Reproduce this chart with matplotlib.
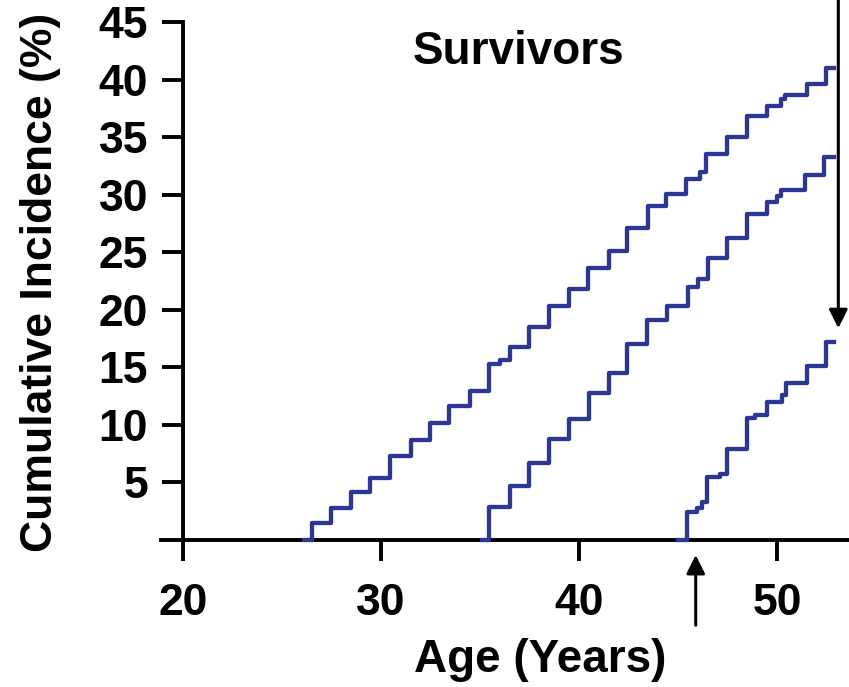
import matplotlib
matplotlib.use("Agg")
import matplotlib.pyplot as plt

# Step curves (age in years, cumulative incidence in %)
c1_age = [26.1, 26.5, 27.5, 28.5, 29.45, 30.45, 31.5, 32.5, 33.45, 34.5, 35.45, 36.0,
          36.5, 37.5, 38.5, 39.5, 40.47, 41.5, 42.45, 43.5, 44.4, 45.4, 46.1, 46.4,
          47.46, 48.5, 49.5, 50.2, 50.4, 51.5, 52.5, 52.9]
c1_pct = [0, 1.45, 2.8, 4.2, 5.4, 7.3, 8.7, 10.2, 11.6, 12.96, 15.3, 15.6,
          16.8, 18.5, 20.3, 21.8, 23.6, 25.1, 27.1, 29.0, 30.06, 31.4, 32.0, 33.5,
          35.0, 36.8, 37.7, 38.3, 38.7, 39.6, 41.0, 41.0]

c2_age = [35.1, 35.45, 36.5, 37.5, 38.5, 39.5, 40.5, 41.5, 42.45, 43.45, 44.45, 45.5,
          46.0, 46.5, 47.5, 48.5, 49.5, 50.0, 50.2, 51.4, 52.4, 52.9]
c2_pct = [0, 2.9, 4.7, 6.7, 8.75, 10.5, 12.75, 14.5, 17.0, 19.1, 20.3, 22.0,
          22.7, 24.5, 26.2, 28.3, 29.4, 29.9, 30.4, 31.7, 33.3, 33.3]

c3_age = [45.0, 45.47, 45.94, 46.2, 46.45, 47.12, 47.5, 48.5, 48.9, 49.5, 50.24, 50.44,
          51.5, 52.5, 52.9]
c3_pct = [0, 2.4, 2.75, 3.3, 5.5, 5.7, 7.9, 10.6, 10.9, 12.0, 12.6, 13.6,
          15.1, 17.2, 17.2]

x_ticks = [20, 30, 40, 50]
y_ticks = [5, 10, 15, 20, 25, 30, 35, 40, 45]

# arrows: (age, tail %, head %)
up_arrow = (45.9, -7.4, -1.3)
down_arrow = (53.1, 47.5, 18.4)

BLUE = "#2b3696"
FONT = "Liberation Sans"

plt.rcParams["font.family"] = FONT
plt.rcParams["font.weight"] = "bold"

fig = plt.figure(figsize=(8.49, 6.87), dpi=100)
ax = fig.add_axes([161 / 849, 147 / 687, 688 / 849, 518 / 687])

for age, pct in [(c1_age, c1_pct), (c2_age, c2_pct), (c3_age, c3_pct)]:
    ax.step(age, pct, where="post", color=BLUE, lw=3.1, zorder=5, clip_on=False)

ax.set_xlim(18.9, 53.64)
ax.set_ylim(0, 45)

ax.spines["top"].set_visible(False)
ax.spines["right"].set_visible(False)
ax.spines["left"].set_position(("data", 20))
ax.spines["left"].set_bounds(0, 45)
for s in ["left", "bottom"]:
    ax.spines[s].set_linewidth(2.8)

ax.set_xticks(x_ticks)
ax.set_yticks(y_ticks)
ax.tick_params(axis="x", direction="out", length=15, width=2.8, pad=16, labelsize=32)
ax.tick_params(axis="y", direction="out", length=15, width=2.8, pad=10, labelsize=32)
for lab in ax.get_xticklabels() + ax.get_yticklabels():
    lab.set_fontweight("bold")

ax.set_xlabel("Age (Years)", fontsize=33, fontweight="bold")
ax.xaxis.set_label_coords(0.551, -0.19)
ax.set_ylabel("Cumulative Incidence (%)", fontsize=32, fontweight="bold")
ax.yaxis.set_label_coords(-0.145, 0.498)

ax.text(36.94, 42.4, "Survivors", fontsize=33, fontweight="bold",
        ha="center", va="center")

for x, tail, head in [up_arrow, down_arrow]:
    ax.annotate("", xy=(x, head), xytext=(x, tail), annotation_clip=False,
                arrowprops=dict(arrowstyle="-|>", color="black", lw=2.2,
                                mutation_scale=28, shrinkA=0, shrinkB=0))

fig.savefig("out.png", dpi=100)
